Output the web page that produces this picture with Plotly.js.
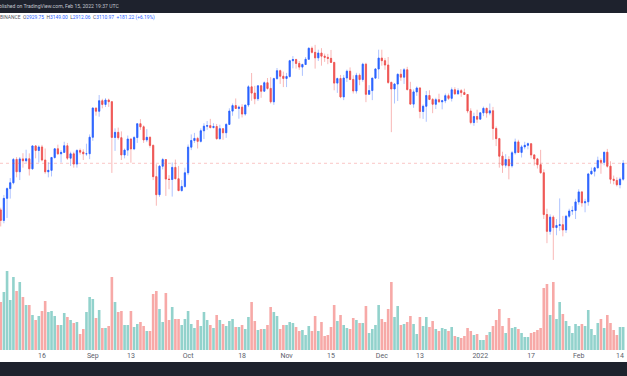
<!DOCTYPE html>
<html>
<head>
<meta charset="utf-8">
<script src="https://cdn.plot.ly/plotly-3.0.1.min.js"></script>
<style>html,body{margin:0;padding:0;background:#fff;}#chart{width:627px;height:376px;}</style>
</head>
<body>
<div id="chart"></div>
<script>
// ETH/USDT daily, Binance, 2021-08-03 .. 2022-02-15
const dates = [
'2021-08-03','2021-08-04','2021-08-05','2021-08-06','2021-08-07','2021-08-08','2021-08-09','2021-08-10','2021-08-11','2021-08-12','2021-08-13','2021-08-14','2021-08-15','2021-08-16','2021-08-17','2021-08-18','2021-08-19','2021-08-20','2021-08-21','2021-08-22','2021-08-23','2021-08-24','2021-08-25','2021-08-26','2021-08-27','2021-08-28','2021-08-29','2021-08-30','2021-08-31',
'2021-09-01','2021-09-02','2021-09-03','2021-09-04','2021-09-05','2021-09-06','2021-09-07','2021-09-08','2021-09-09','2021-09-10','2021-09-11','2021-09-12','2021-09-13','2021-09-14','2021-09-15','2021-09-16','2021-09-17','2021-09-18','2021-09-19','2021-09-20','2021-09-21','2021-09-22','2021-09-23','2021-09-24','2021-09-25','2021-09-26','2021-09-27','2021-09-28','2021-09-29','2021-09-30',
'2021-10-01','2021-10-02','2021-10-03','2021-10-04','2021-10-05','2021-10-06','2021-10-07','2021-10-08','2021-10-09','2021-10-10','2021-10-11','2021-10-12','2021-10-13','2021-10-14','2021-10-15','2021-10-16','2021-10-17','2021-10-18','2021-10-19','2021-10-20','2021-10-21','2021-10-22','2021-10-23','2021-10-24','2021-10-25','2021-10-26','2021-10-27','2021-10-28','2021-10-29','2021-10-30','2021-10-31',
'2021-11-01','2021-11-02','2021-11-03','2021-11-04','2021-11-05','2021-11-06','2021-11-07','2021-11-08','2021-11-09','2021-11-10','2021-11-11','2021-11-12','2021-11-13','2021-11-14','2021-11-15','2021-11-16','2021-11-17','2021-11-18','2021-11-19','2021-11-20','2021-11-21','2021-11-22','2021-11-23','2021-11-24','2021-11-25','2021-11-26','2021-11-27','2021-11-28','2021-11-29','2021-11-30',
'2021-12-01','2021-12-02','2021-12-03','2021-12-04','2021-12-05','2021-12-06','2021-12-07','2021-12-08','2021-12-09','2021-12-10','2021-12-11','2021-12-12','2021-12-13','2021-12-14','2021-12-15','2021-12-16','2021-12-17','2021-12-18','2021-12-19','2021-12-20','2021-12-21','2021-12-22','2021-12-23','2021-12-24','2021-12-25','2021-12-26','2021-12-27','2021-12-28','2021-12-29','2021-12-30','2021-12-31',
'2022-01-01','2022-01-02','2022-01-03','2022-01-04','2022-01-05','2022-01-06','2022-01-07','2022-01-08','2022-01-09','2022-01-10','2022-01-11','2022-01-12','2022-01-13','2022-01-14','2022-01-15','2022-01-16','2022-01-17','2022-01-18','2022-01-19','2022-01-20','2022-01-21','2022-01-22','2022-01-23','2022-01-24','2022-01-25','2022-01-26','2022-01-27','2022-01-28','2022-01-29','2022-01-30','2022-01-31',
'2022-02-01','2022-02-02','2022-02-03','2022-02-04','2022-02-05','2022-02-06','2022-02-07','2022-02-08','2022-02-09','2022-02-10','2022-02-11','2022-02-12','2022-02-13','2022-02-14','2022-02-15'];

const open = [
2608,2507,2725,2827,2890,3157,3013,3163,3141,3164,3047,3322,3266,3309,3150,3013,3029,3180,3286,3225,3242,3324,3172,3224,3102,3266,3245,3225,3226,
3433,3834,3788,3941,3887,3952,3927,3431,3497,3427,3211,3270,3410,3285,3429,3613,3571,3398,3432,3329,2958,2763,3077,3155,2931,2926,3063,2934,2806,2850,
3001,3307,3391,3418,3380,3518,3580,3587,3561,3575,3415,3546,3492,3604,3790,3869,3828,3847,3748,3878,4154,4057,3971,4170,4086,4218,4129,3925,4285,4415,4324,
4288,4320,4585,4605,4538,4476,4520,4610,4806,4732,4635,4720,4665,4644,4626,4556,4213,4286,3999,4295,4407,4272,4090,4339,4270,4525,4038,4096,4293,4444,
4631,4586,4511,4224,4120,4198,4356,4309,4430,4112,3891,4075,4136,3784,3860,4020,3961,3889,3957,3925,3941,4017,3977,4108,4045,4094,4064,4035,3791,3629,3713,
3676,3765,3829,3762,3794,3548,3415,3196,3089,3156,3082,3237,3373,3242,3310,3330,3350,3211,3163,3095,3002,2563,2405,2538,2440,2459,2466,2418,2547,2597,2603,
2688,2792,2679,2690,2988,3019,3058,3145,3122,3244,3077,2929,2916,2869,2929.75];

const high = [
2630,2760,2840,2942,3174,3185,3185,3232,3275,3230,3331,3333,3330,3335,3290,3124,3187,3295,3338,3270,3375,3360,3250,3250,3280,3290,3280,3350,3470,
3845,3840,4027,3970,3980,3973,3930,3550,3560,3510,3290,3455,3420,3450,3615,3676,3590,3540,3445,3340,3100,3090,3175,3160,2975,3120,3155,3080,2920,3060,
3340,3470,3490,3438,3550,3620,3650,3680,3620,3610,3600,3550,3620,3830,3900,3975,3870,3890,3880,4180,4377,4170,4180,4180,4240,4295,4308,4300,4460,4433,4400,
4379,4600,4665,4620,4580,4535,4650,4825,4838,4868,4780,4808,4710,4705,4775,4563,4302,4345,4345,4434,4470,4340,4380,4370,4550,4550,4180,4300,4460,4780,
4780,4630,4650,4237,4215,4370,4443,4460,4480,4233,4113,4160,4150,3886,4090,4100,3981,3985,4047,3955,4050,4050,4144,4148,4130,4120,4125,4040,3830,3767,3810,
3770,3855,3840,3900,3850,3575,3425,3250,3220,3195,3260,3415,3400,3335,3375,3365,3355,3220,3175,3273,3040,2620,2565,2555,2520,2724,2550,2560,2620,2645,2720,
2820,2800,2720,3000,3062,3070,3190,3170,3250,3285,3135,2970,2950,2950,3149.00];

const low = [
2450,2480,2530,2722,2873,2950,2920,3060,3118,2970,3035,3170,3120,3133,2990,2950,2960,3165,3210,3120,3240,3150,3080,3060,3060,3215,3150,3200,3160,
3387,3725,3710,3830,3849,3850,3000,3260,3400,3150,3170,3200,3118,3270,3360,3530,3360,3370,3300,2920,2650,2740,3040,2750,2820,2743,2930,2800,2795,2836,
2975,3270,3360,3290,3365,3410,3530,3550,3550,3400,3400,3400,3425,3600,3723,3820,3682,3700,3725,3848,3940,3890,3937,3985,4080,4110,3900,3880,4268,4200,4150,
4150,4300,4455,4450,4430,4330,4510,4605,4712,4450,4580,4500,4565,4525,4550,4100,4060,3980,3950,4230,4260,4050,4050,4180,4235,3920,4036,3950,4280,4280,
4500,4430,4200,3500,3900,3937,4250,4200,4094,3880,3838,4015,3688,3680,3640,3950,3760,3820,3910,3815,3905,3953,3930,4030,4035,4000,4030,3760,3605,3585,3625,
3675,3718,3697,3730,3400,3320,3060,3000,3060,2928,3060,3215,3235,3180,3280,3280,3170,3085,3050,2990,2520,2300,2375,2159,2370,2410,2360,2390,2530,2560,2520,
2660,2640,2585,2650,2980,2960,3050,2990,3088,3060,2880,2873,2850,2830,2912.06];

const close = [
2507,2725,2827,2890,3157,3013,3163,3141,3164,3047,3322,3266,3309,3150,3013,3029,3180,3286,3225,3242,3324,3172,3224,3102,3266,3245,3225,3226,3433,
3834,3788,3941,3887,3952,3927,3431,3497,3427,3211,3270,3410,3285,3429,3613,3571,3398,3432,3329,2958,2763,3077,3155,2931,2926,3063,2934,2806,2850,3001,
3307,3391,3418,3380,3518,3580,3587,3561,3575,3415,3546,3492,3604,3790,3869,3828,3847,3748,3878,4154,4057,3971,4170,4086,4218,4129,3925,4285,4415,4324,4288,
4320,4585,4605,4538,4476,4520,4610,4806,4732,4635,4720,4665,4644,4626,4556,4213,4286,3999,4295,4407,4272,4090,4339,4270,4525,4038,4096,4293,4444,4631,
4586,4511,4224,4120,4198,4356,4309,4430,4112,3891,4075,4136,3784,3860,4020,3961,3889,3957,3925,3941,4017,3977,4108,4045,4094,4064,4035,3791,3629,3713,3676,
3765,3829,3762,3794,3548,3415,3196,3089,3156,3082,3237,3373,3242,3310,3330,3350,3211,3163,3095,3002,2563,2405,2538,2440,2459,2466,2418,2547,2597,2603,2688,
2792,2679,2690,2988,3019,3058,3145,3122,3244,3077,2929,2916,2869,2929.75,3110.97];

// volume, thousands of ETH
const volumeK = [
672,812,1106,700,1022,826,952,742,630,630,490,420,476,546,686,532,546,476,350,350,518,462,420,378,392,224,294,532,742,
714,448,560,308,308,336,1022,672,532,546,350,350,546,322,364,392,336,266,266,784,826,574,392,798,420,602,434,434,350,434,
546,364,308,420,336,532,420,350,308,490,420,364,336,406,434,322,322,350,294,462,672,406,280,294,294,350,602,532,476,294,350,
350,392,378,322,266,280,210,336,266,476,266,392,196,210,322,630,406,490,350,308,294,448,420,378,378,616,238,294,350,630,
434,392,574,952,462,616,350,364,392,476,364,224,462,336,462,322,406,294,266,308,294,266,322,196,182,168,196,308,266,210,224,
140,140,210,252,336,420,574,336,238,448,308,322,294,238,182,182,238,252,280,308,868,924,490,952,434,672,504,406,336,238,364,
336,364,336,560,294,210,378,434,308,490,378,280,210,322,322];

const tickVals = ['2021-08-16','2021-09-01','2021-09-13','2021-10-01','2021-10-18','2021-11-01','2021-11-15','2021-12-01','2021-12-13','2022-01-01','2022-01-17','2022-02-01','2022-02-14'];
const tickText = ['16','Sep','13','Oct','18','Nov','15','Dec','13','2022','17','Feb','14'];

const headerLine = 'Published on TradingView.com, Feb 15, 2022 19:37 UTC';
const symbolLine = 'ETHUSDT, 1D, BINANCE';
const lastO = open[open.length-1], lastH = high[high.length-1], lastL = low[low.length-1], lastC = close[close.length-1];
const chg = lastC - lastO;
const chgPct = chg / lastO * 100;

const UP = '#2962ff', DOWN = '#ef5350';
const UP_WICK = 'rgba(41,98,255,0.38)', DOWN_WICK = 'rgba(239,83,80,0.42)';
const VOL_UP = 'rgba(38,166,154,0.5)', VOL_DOWN = 'rgba(239,83,80,0.5)';

const bodyHigh = open.map((o,i)=>Math.max(o, close[i]));
const bodyLow = open.map((o,i)=>Math.min(o, close[i]));
const volColors = open.map((o,i)=> close[i] >= o ? VOL_UP : VOL_DOWN);

const xRange = ['2021-08-02 18:40', '2022-02-16 04:50'];

const traces = [
  {type:'bar', x:dates, y:volumeK, marker:{color:volColors, line:{width:0}}, yaxis:'y', hoverinfo:'skip'},
  {type:'candlestick', x:dates, open:open, high:high, low:low, close:close, yaxis:'y2',
   increasing:{line:{color:UP_WICK, width:1}, fillcolor:UP_WICK},
   decreasing:{line:{color:DOWN_WICK, width:1}, fillcolor:DOWN_WICK},
   whiskerwidth:0, hoverinfo:'skip'},
  {type:'candlestick', x:dates, open:open, high:bodyHigh, low:bodyLow, close:close, yaxis:'y2',
   increasing:{line:{color:UP, width:0.6}, fillcolor:UP},
   decreasing:{line:{color:DOWN, width:0.6}, fillcolor:DOWN},
   whiskerwidth:0, hoverinfo:'skip'},
  {type:'scatter', mode:'lines', x:xRange, y:[lastC, lastC], yaxis:'y2',
   line:{color:'rgba(239,83,80,0.42)', width:0.8, dash:'dot'}, hoverinfo:'skip'}
];

const num = v => v.toFixed(2);
const blue = s => '<span style="color:#2962ff">' + s + '</span>';
const symbolText = symbolLine + '  O' + blue(num(lastO)) + '  H' + blue(num(lastH)) + '  L' + blue(num(lastL)) +
  '  C' + blue(num(lastC)) + '  ' + blue('+' + num(chg) + ' (+' + num(chgPct) + '%)');

const layout = {
  width:627, height:376,
  margin:{l:0, r:0, t:13, b:26, pad:0},
  paper_bgcolor:'#ffffff', plot_bgcolor:'#ffffff',
  showlegend:false,
  font:{family:'Roboto, Arial, sans-serif', color:'#50535e'},
  bargap:0.18,
  boxgap:0.45,
  xaxis:{type:'date', range:xRange, rangeslider:{visible:false}, showgrid:false, zeroline:false,
         showline:false, ticks:'', tickmode:'array', tickvals:tickVals, ticktext:tickText,
         tickfont:{size:7, color:'#5d606b'}, fixedrange:true},
  yaxis:{range:[0, 4718], showgrid:false, zeroline:false, showticklabels:false, ticks:'', fixedrange:true},
  yaxis2:{type:'log', overlaying:'y', side:'right', range:[3.1863, 3.7397], showgrid:false, zeroline:false,
          showticklabels:false, ticks:'', fixedrange:true},
  shapes:[
    {type:'rect', xref:'paper', yref:'paper', x0:0, x1:1, y0:1, y1:1+13/337, fillcolor:'#1e222d', line:{width:0}, layer:'below'},
    {type:'rect', xref:'paper', yref:'paper', x0:0, x1:1, y0:-26/337, y1:-12/337, fillcolor:'#1e222d', line:{width:0}, layer:'below'}
  ],
  annotations:[
    {xref:'paper', yref:'paper', x:121/627, y:1+7/337, xanchor:'right', yanchor:'middle', showarrow:false,
     text:headerLine, font:{size:5.1, color:'#c3c6cf'}},
    {xref:'paper', yref:'paper', x:157/627, y:(350-18)/337, xanchor:'right', yanchor:'middle', showarrow:false,
     text:symbolText, font:{size:4.9, color:'#50535e'}}
  ]
};

Plotly.newPlot('chart', traces, layout, {staticPlot:true, displayModeBar:false});
</script>
</body>
</html>
